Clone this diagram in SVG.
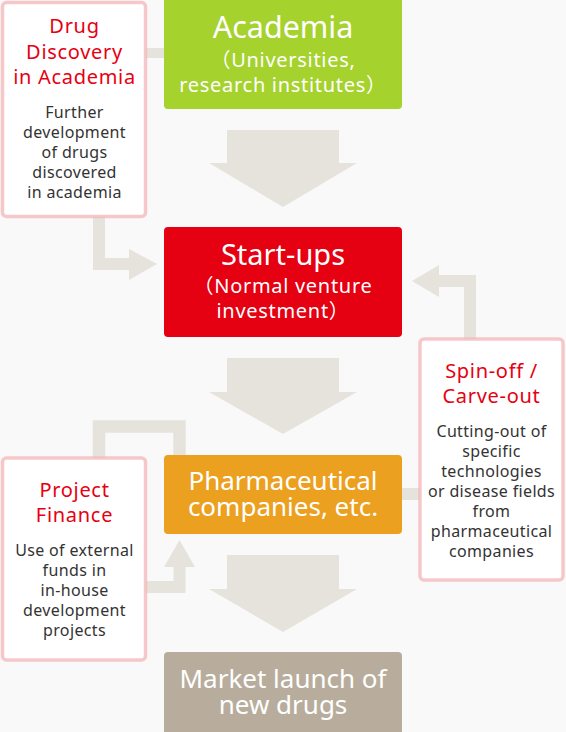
<svg xmlns="http://www.w3.org/2000/svg" width="566" height="732" viewBox="0 0 566 732">
<style>
text{font-family:"Noto Sans","Noto Sans CJK JP",sans-serif;text-anchor:middle}
.band{fill:none;stroke:#e6e3dc;stroke-linejoin:miter}
.head{fill:#e6e3dc}
.side{fill:#fff;stroke:#f3b5b8;stroke-opacity:0.75;stroke-width:3.5}
.wt{fill:#fff}
.sub{font-size:20px;letter-spacing:0.7px}
.rt{fill:#e60012;font-size:20px;letter-spacing:0.7px}
.bt{fill:#333;font-size:16px;letter-spacing:0.35px}
</style>
<rect width="566" height="732" fill="#f9f9f9"/>
<g id="connectors">
<polygon class="head" points="227,130 339,130 339,163 357,163 283,207 209,163 227,163"/>
<polygon class="head" points="227,358 339,358 339,392 357,392 283,434 209,392 227,392"/>
<polygon class="head" points="227,555 339,555 339,589 357,589 283,632 209,589 227,589"/>
<line class="band" x1="145" y1="53" x2="166" y2="53" stroke-width="10"/>
<polyline class="band" points="99,216 99,264 131,264" stroke-width="12"/>
<polygon class="head" points="129,249 157,264 129,280"/>
<polyline class="band" points="470,340 470,281 437,281" stroke-width="12"/>
<polygon class="head" points="439,265 412,281 439,297"/>
<line class="band" x1="400" y1="494" x2="421" y2="494" stroke-width="12"/>
<polyline class="band" points="99,459 99,426.5 179.5,426.5 179.5,457" stroke-width="12.5"/>
<polyline class="band" points="145,587 179.5,587 179.5,565" stroke-width="12"/>
<polygon class="head" points="164,567 179.5,540 195,567"/>
</g>
<g id="academia">
<rect x="164" y="-4" width="238" height="113" rx="4" fill="#a5d22d"/>
<text class="wt" x="283" y="38" font-size="30.5">Academia</text>
<text class="wt sub" x="283" y="67">（Universities,</text>
<text class="wt sub" x="283" y="92">research institutes）</text>
</g>
<g id="startups">
<rect x="164" y="227" width="238" height="110" rx="4" fill="#e50012"/>
<text class="wt" x="283" y="265" font-size="29">Start-ups</text>
<text class="wt sub" x="283" y="293">（Normal venture</text>
<text class="wt sub" x="283" y="318">investment）</text>
</g>
<g id="pharma">
<rect x="164" y="455" width="238" height="79" rx="4" fill="#eba020"/>
<text class="wt" x="283" y="490" font-size="26">Pharmaceutical</text>
<text class="wt" x="283" y="516" font-size="26">companies, etc.</text>
</g>
<g id="market">
<rect x="164" y="652" width="238" height="84" rx="4" fill="#b8ad9c"/>
<text class="wt" x="283" y="688" font-size="26">Market launch of</text>
<text class="wt" x="283" y="714" font-size="26">new drugs</text>
</g>
<g id="drug-discovery">
<rect class="side" x="2.5" y="2.5" width="143" height="214" rx="4"/>
<text class="rt" x="74.5" y="33">Drug</text>
<text class="rt" x="74.5" y="59">Discovery</text>
<text class="rt" x="74.5" y="84">in Academia</text>
<text class="bt" x="74.5" y="118">Further</text>
<text class="bt" x="74.5" y="138">development</text>
<text class="bt" x="74.5" y="158">of drugs</text>
<text class="bt" x="74.5" y="178">discovered</text>
<text class="bt" x="74.5" y="198">in academia</text>
</g>
<g id="spin-off">
<rect class="side" x="420" y="339" width="143" height="241" rx="4"/>
<text class="rt" x="491.5" y="378">Spin-off /</text>
<text class="rt" x="491.5" y="403">Carve-out</text>
<text class="bt" x="491.5" y="437">Cutting-out of</text>
<text class="bt" x="491.5" y="457">specific</text>
<text class="bt" x="491.5" y="477">technologies</text>
<text class="bt" x="491.5" y="497">or disease fields</text>
<text class="bt" x="491.5" y="517">from</text>
<text class="bt" x="491.5" y="537">pharmaceutical</text>
<text class="bt" x="491.5" y="557">companies</text>
</g>
<g id="project-finance">
<rect class="side" x="2.5" y="458" width="143" height="202" rx="4"/>
<text class="rt" x="74.5" y="497">Project</text>
<text class="rt" x="74.5" y="522">Finance</text>
<text class="bt" x="74.5" y="556">Use of external</text>
<text class="bt" x="74.5" y="576">funds in</text>
<text class="bt" x="74.5" y="596">in-house</text>
<text class="bt" x="74.5" y="616">development</text>
<text class="bt" x="74.5" y="636">projects</text>
</g>
</svg>
